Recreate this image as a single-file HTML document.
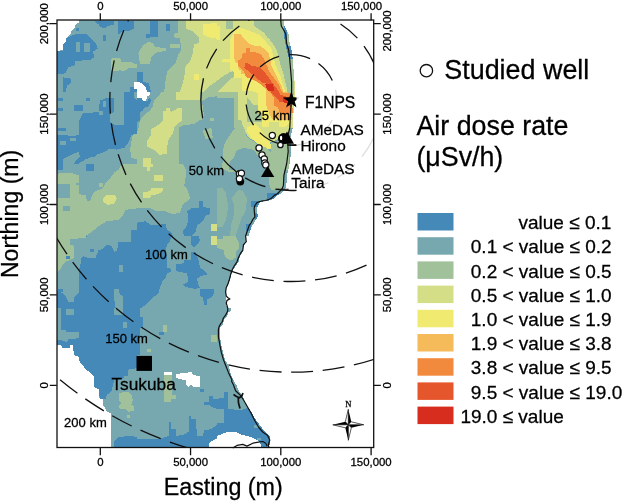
<!DOCTYPE html>
<html><head><meta charset="utf-8"><style>
html,body{margin:0;padding:0;background:#fff;}
svg{display:block;}
text{font-family:'Liberation Sans',Arial,sans-serif;stroke:#000;stroke-width:0.28px;}
</style></head><body>
<svg width="625" height="503" viewBox="0 0 625 503">
<rect width="625" height="503" fill="#fff"/>
<defs><clipPath id="hc"><rect x="198" y="20" width="99" height="150"/></clipPath><clipPath id="pc"><rect x="57" y="20" width="317" height="428"/></clipPath>
<clipPath id="t0"><rect x="57" y="20" width="80" height="72"/></clipPath>
<clipPath id="t1"><rect x="137" y="20" width="80" height="72"/></clipPath>
<clipPath id="t2"><rect x="217" y="20" width="80" height="72"/></clipPath>
<clipPath id="t3"><rect x="57" y="92" width="80" height="72"/></clipPath>
<clipPath id="t4"><rect x="137" y="92" width="80" height="72"/></clipPath>
<clipPath id="t5"><rect x="217" y="92" width="80" height="72"/></clipPath>
<clipPath id="t6"><rect x="57" y="164" width="80" height="72"/></clipPath>
<clipPath id="t7"><rect x="137" y="164" width="80" height="72"/></clipPath>
<clipPath id="t8"><rect x="217" y="164" width="80" height="72"/></clipPath>
<clipPath id="t9"><rect x="57" y="236" width="80" height="72"/></clipPath>
<clipPath id="t10"><rect x="137" y="236" width="80" height="72"/></clipPath>
<clipPath id="t11"><rect x="217" y="236" width="80" height="72"/></clipPath>
<clipPath id="t12"><rect x="57" y="308" width="80" height="72"/></clipPath>
<clipPath id="t13"><rect x="137" y="308" width="80" height="72"/></clipPath>
<clipPath id="t14"><rect x="217" y="308" width="80" height="72"/></clipPath>
<clipPath id="t15"><rect x="57" y="376" width="80" height="72"/></clipPath>
<clipPath id="t16"><rect x="137" y="376" width="80" height="72"/></clipPath>
<clipPath id="t17"><rect x="217" y="376" width="80" height="72"/></clipPath>
</defs>
<g clip-path="url(#pc)" shape-rendering="crispEdges">
<g clip-path="url(#t0)"><rect x="57" y="20" width="80" height="72" fill="#77a8b0"/>
<polygon fill="#ffffff" points="57.0,20.0 78.5,20.0 78.5,22.9 75.6,24.3 74.9,27.2 71.3,31.4 70.6,34.3 67.0,37.2 65.6,41.5 62.7,45.0 62.7,50.1 58.4,50.8 57.0,51.5"/>
<polygon fill="#4489b8" points="65.6,38.6 71.3,35.7 75.6,34.3 87.1,34.3 91.3,38.6 95.6,42.9 97.8,48.6 92.8,51.5 94.2,57.2 89.9,60.1 75.6,60.8 74.2,65.8 68.4,67.2 65.6,73.0 59.9,74.4 57.0,74.4 57.0,51.5 62.7,50.8 62.7,45.0 65.6,41.5"/>
<polygon fill="#77a8b0" points="75.6,41.5 79.9,41.5 79.9,51.5 75.6,51.5"/>
<polygon fill="#77a8b0" points="83.5,42.9 89.9,42.9 89.9,51.5 83.5,51.5"/>
<polygon fill="#4489b8" points="94.9,21.4 114.2,21.4 114.2,25.0 108.5,25.7 105.7,27.9 99.9,27.2 98.5,24.3"/>
<polygon fill="#4489b8" points="118.5,21.4 134.3,21.4 134.3,28.6 128.6,31.4 122.8,31.4 118.5,34.3 117.8,28.6"/>
<polygon fill="#4489b8" points="102.8,35.0 106.4,35.0 106.4,40.8 102.8,40.8"/>
<polygon fill="#4489b8" points="75.6,27.9 78.5,27.9 78.5,30.7 75.6,30.7"/>
<polygon fill="#4489b8" points="62.7,77.2 71.3,78.7 70.6,83.0 67.0,85.8 65.6,92.0 62.7,92.0"/>
<polygon fill="#4489b8" points="130.0,87.3 137.0,87.3 137.0,92.0 130.0,92.0"/>
<polygon fill="#a1c19b" points="110.7,58.6 120.0,57.9 121.4,61.5 128.6,61.5 137.0,64.4 137.0,67.9 128.6,67.9 124.3,71.5 120.0,70.1 117.1,71.5 111.4,70.8"/>
<polygon fill="#ffffff" points="134.3,81.5 137.0,81.5 137.0,88.7 134.3,88.7"/>
</g>
<g clip-path="url(#t1)"><rect x="137" y="20" width="80" height="72" fill="#77a8b0"/>
<polygon fill="#4489b8" points="149.9,21.4 157.8,21.4 157.8,37.2 149.9,37.2"/>
<polygon fill="#4489b8" points="165.6,24.3 169.9,24.3 169.9,30.7 165.6,30.7"/>
<polygon fill="#4489b8" points="145.6,34.3 149.9,34.3 149.9,37.9 145.6,37.9"/>
<polygon fill="#a1c19b" points="142.7,45.8 148.4,41.5 152.7,42.9 155.6,47.2 165.6,47.9 165.6,50.8 155.6,52.9 151.3,57.2 149.9,64.4 139.9,64.4 138.4,52.9"/>
<polygon fill="#a1c19b" points="177.8,20.0 217.0,20.0 217.0,92.0 164.2,92.0 165.6,80.1 167.1,71.5 171.3,67.2 175.6,62.9 178.5,54.3 181.4,50.1 179.9,38.6 174.2,37.2 174.2,33.6 177.8,32.9"/>
<polygon fill="#a1c19b" points="169.9,44.3 179.9,44.3 179.9,47.9 169.9,47.9"/>
<polygon fill="#d4de87" points="186.4,20.0 217.0,20.0 217.0,92.0 179.9,92.0 182.8,83.0 184.2,77.2 185.7,65.8 190.0,61.5 192.8,52.9 194.2,44.3 198.5,42.9 198.5,37.2 192.8,31.4 186.4,28.6"/>
<polygon fill="#f0ea70" points="202.8,24.3 217.0,22.9 217.0,38.6 208.6,37.2 202.8,34.3"/>
<polygon fill="#f0ea70" points="194.2,74.4 198.5,74.4 198.5,80.1 194.2,80.1"/>
<polygon fill="#4489b8" points="137.0,71.5 142.7,71.5 142.7,81.5 148.4,83.0 151.3,92.0 147.0,92.0 145.6,87.3 141.3,83.0 137.0,81.5"/>
<polygon fill="#ffffff" points="137.0,81.5 141.3,83.0 145.6,87.3 147.0,92.0 137.0,92.0"/>
</g>
<g clip-path="url(#t2)"><rect x="217" y="20" width="80" height="72" fill="#d4de87"/>
<polygon fill="#f0ea70" points="217.0,25.7 219.9,25.7 219.9,40.0 217.0,40.0"/>
<polygon fill="#a1c19b" points="225.6,21.4 232.7,21.4 232.7,28.6 225.6,28.6"/>
<polygon fill="#a1c19b" points="254.2,20.0 280.0,20.0 280.0,27.2 285.7,28.6 287.1,34.3 287.8,52.9 285.7,55.8 280.0,54.3 277.1,51.5 274.2,48.6 271.4,42.9 265.7,38.6 259.9,34.3 257.1,28.6 254.2,24.3"/>
</g>
<g clip-path="url(#t3)"><rect x="57" y="92" width="80" height="72" fill="#77a8b0"/>
<polygon fill="#4489b8" points="78.5,122.1 82.8,113.5 98.5,112.0 99.9,100.6 105.7,98.4 114.2,98.4 114.2,112.0 110.0,113.5 110.0,122.1 114.2,124.9 124.3,124.9 124.3,92.0 134.3,92.0 134.3,97.7 137.0,100.6 137.0,133.5 131.4,134.9 128.6,142.1 124.3,147.8 117.1,149.2 112.8,153.5 105.7,155.0 99.9,157.8 92.8,156.4 85.6,159.3 78.5,163.6 78.5,164.0 57.0,164.0 57.0,134.9 65.6,134.9 71.3,136.4 78.5,134.9"/>
<polygon fill="#77a8b0" points="62.7,159.3 68.4,156.4 74.2,153.5 78.5,152.1 79.9,156.4 75.6,160.7 74.2,164.0 62.7,164.0"/>
<polygon fill="#77a8b0" points="95.6,155.0 104.2,152.1 108.5,149.2 115.7,148.5 117.1,152.1 120.0,157.8 121.4,164.0 94.2,164.0"/>
<polygon fill="#4489b8" points="58.4,97.7 62.7,97.7 62.7,100.6 58.4,100.6"/>
<polygon fill="#4489b8" points="58.4,107.7 62.7,107.7 62.7,110.6 58.4,110.6"/>
<polygon fill="#4489b8" points="74.2,104.9 82.8,104.9 82.8,110.6 74.2,110.6"/>
<polygon fill="#4489b8" points="85.6,97.7 89.9,97.7 89.9,100.6 85.6,100.6"/>
<polygon fill="#4489b8" points="58.4,127.8 65.6,127.8 65.6,130.6 58.4,130.6"/>
<polygon fill="#77a8b0" points="59.9,140.7 65.6,140.7 65.6,145.0 59.9,145.0"/>
<polygon fill="#77a8b0" points="69.9,137.8 75.6,137.8 75.6,140.7 69.9,140.7"/>
<polygon fill="#77a8b0" points="102.8,101.3 106.4,101.3 106.4,107.0 102.8,107.0"/>
<polygon fill="#77a8b0" points="98.5,110.6 102.8,110.6 102.8,114.9 98.5,114.9"/>
<polygon fill="#a1c19b" points="132.8,134.9 137.0,133.5 137.0,159.3 131.4,157.8 130.0,149.2"/>
</g>
<g clip-path="url(#t4)"><rect x="137" y="92" width="80" height="72" fill="#a1c19b"/>
<polygon fill="#77a8b0" points="145.6,92.0 161.3,92.0 158.5,96.3 154.2,100.6 152.7,106.3 149.9,110.6 144.2,114.9 139.9,120.6 138.4,129.2 137.0,132.1 137.0,92.0"/>
<polygon fill="#ffffff" points="137.0,92.0 149.9,92.0 149.9,94.9 147.0,96.3 146.3,100.6 142.7,100.6 141.3,97.7 137.0,97.7"/>
<polygon fill="#4489b8" points="137.0,97.7 141.3,97.7 142.7,100.6 147.0,101.3 149.9,97.7 151.3,100.6 148.4,106.3 144.2,107.7 142.7,110.6 139.9,112.0 139.9,120.6 137.0,122.1"/>
<polygon fill="#77a8b0" points="201.4,100.6 205.7,97.7 217.0,96.3 217.0,164.0 178.5,164.0 178.5,127.8 184.2,124.9 194.2,124.2 200.0,119.9 204.3,119.2 202.8,106.3"/>
<polygon fill="#a1c19b" points="202.8,130.6 211.4,127.8 212.8,137.8 205.7,139.2"/>
<polygon fill="#a1c19b" points="210.0,117.8 214.3,117.8 214.3,120.6 210.0,120.6"/>
<polygon fill="#d4de87" points="175.6,92.0 200.0,92.0 200.0,99.9 175.6,99.9"/>
<polygon fill="#d4de87" points="162.8,111.3 165.6,110.6 166.3,108.0 170.2,108.0 170.6,112.0 174.2,110.3 178.5,107.7 181.7,107.7 181.7,120.6 177.4,124.2 174.5,127.1 172.8,133.5 168.8,139.2 167.1,146.4 167.1,153.5 159.9,155.0 154.2,150.0 147.0,146.4 147.0,140.7 151.3,134.9 151.3,128.9 158.5,124.9 162.8,120.6"/>
<polygon fill="#d4de87" points="142.7,157.8 150.6,157.8 150.6,164.0 142.7,164.0"/>
</g>
<g clip-path="url(#t5)"><rect x="217" y="92" width="80" height="72" fill="#77a8b0"/>
<polygon fill="#a1c19b" points="217.0,92.0 297.0,92.0 297.0,97.7 217.0,97.7"/>
<polygon fill="#a1c19b" points="234.0,92.0 238.4,92.0 238.4,128.0 234.0,128.0"/>
<polygon fill="#d4de87" points="238.4,92.0 297.0,92.0 297.0,128.0 238.4,128.0"/>
<polygon fill="#a1c19b" points="247.0,91.0 258.0,91.0 258.0,122.0 247.0,122.0"/>
<polygon fill="#f0ea70" points="249.0,123.0 258.0,123.0 258.0,128.0 249.0,128.0"/>
</g>
<g clip-path="url(#t6)"><rect x="57" y="164" width="80" height="72" fill="#a1c19b"/>
<polygon fill="#77a8b0" points="57.0,164.0 121.4,164.0 118.5,169.7 114.2,172.6 110.0,178.3 105.7,182.6 102.8,188.3 95.6,191.2 92.8,194.1 89.9,201.2 87.1,201.2 85.6,195.5 78.5,194.1 78.5,185.5 74.2,184.0 78.5,182.6 78.5,175.4 69.9,172.6 62.7,172.6 57.0,174.0"/>
<polygon fill="#77a8b0" points="57.0,184.0 69.9,184.0 69.9,198.3 57.0,198.3"/>
<polygon fill="#77a8b0" points="62.7,205.5 69.9,205.5 69.9,211.2 62.7,211.2"/>
<polygon fill="#77a8b0" points="137.0,208.4 125.7,209.8 122.8,215.5 118.5,219.8 107.1,221.2 101.4,224.1 94.2,229.8 88.5,234.1 85.6,236.0 137.0,236.0"/>
<polygon fill="#4489b8" points="57.0,164.0 62.7,164.0 62.7,170.4 57.0,170.4"/>
<polygon fill="#4489b8" points="85.6,164.0 94.2,164.0 94.2,171.2 85.6,171.2"/>
<polygon fill="#4489b8" points="131.4,229.8 137.0,229.8 137.0,236.0 131.4,236.0"/>
<polygon fill="#d4de87" points="102.8,198.3 105.7,195.5 114.2,194.8 117.1,198.3 114.2,204.1 107.1,204.8 102.8,201.2"/>
<polygon fill="#a1c19b" points="98.5,182.6 102.8,182.6 102.8,186.9 98.5,186.9"/>
</g>
<g clip-path="url(#t7)"><rect x="137" y="164" width="80" height="72" fill="#77a8b0"/>
<polygon fill="#a1c19b" points="137.0,164.0 182.8,164.0 185.7,169.7 185.7,176.9 184.2,185.5 187.1,188.3 188.5,192.6 190.0,198.3 187.1,201.2 182.8,204.1 179.9,212.7 172.8,214.1 168.5,212.7 165.6,211.2 155.6,211.2 151.3,208.4 137.0,208.4"/>
<polygon fill="#d4de87" points="142.7,164.0 152.7,164.0 152.7,166.9 149.9,166.9 149.9,171.2 147.0,171.2 147.0,166.9 142.7,166.9"/>
<polygon fill="#d4de87" points="154.2,174.7 162.8,174.7 162.8,181.2 154.2,181.2"/>
<polygon fill="#d4de87" points="142.7,192.6 149.9,191.2 151.3,188.3 162.8,188.3 162.8,191.2 158.5,194.1 151.3,195.5 149.9,198.3 142.7,198.3"/>
<polygon fill="#4489b8" points="137.0,222.7 145.6,221.2 151.3,225.5 165.6,224.1 167.1,229.8 171.3,232.7 172.8,236.0 137.0,236.0"/>
<polygon fill="#4489b8" points="187.1,211.2 191.4,208.4 198.5,208.4 198.5,201.2 202.8,201.2 202.8,206.9 210.0,208.4 210.0,214.1 205.7,215.5 202.8,221.2 197.1,225.5 195.7,231.3 191.4,236.0 184.2,236.0 182.8,231.3 187.1,225.5 188.5,218.4"/>
<polygon fill="#d4de87" points="211.4,224.1 217.0,224.1 217.0,231.3 211.4,231.3"/>
</g>
<g clip-path="url(#t8)"><rect x="217" y="164" width="80" height="72" fill="#77a8b0"/>
<polygon fill="#8db5a4" points="217.0,188.3 222.7,188.3 225.6,192.6 227.0,199.8 228.4,206.9 225.6,221.2 222.7,227.0 217.0,227.0"/>
<polygon fill="#8db5a4" points="231.3,198.3 238.5,189.8 242.8,191.2 247.1,198.3 245.6,211.2 241.3,218.4 238.5,227.0 235.6,236.0 229.9,236.0 231.3,224.1 234.2,214.1 234.2,204.1"/>
<polygon fill="#a1c19b" points="225.6,164.0 247.1,164.0 247.1,168.3 241.3,169.7 234.2,172.6 225.6,171.2"/>
<polygon fill="#a1c19b" points="270.0,164.0 284.3,164.0 283.5,185.5 280.0,189.8 271.4,190.5 268.5,182.6 270.0,172.6"/>
<polygon fill="#4489b8" points="251.3,200.5 259.9,200.5 259.9,206.9 251.3,206.9"/>
<polygon fill="#4489b8" points="254.9,212.7 259.9,212.7 259.9,224.1 254.9,224.1"/>
<polygon fill="#4489b8" points="267.1,193.3 280.0,193.3 280.0,199.1 267.1,199.1"/>
<polygon fill="#4489b8" points="245.6,224.1 251.3,224.1 251.3,231.3 245.6,231.3"/>
</g>
<g clip-path="url(#t9)"><rect x="57" y="236" width="80" height="72" fill="#4489b8"/>
<polygon fill="#77a8b0" points="69.9,238.9 85.6,238.1 87.1,236.0 131.4,236.0 131.4,241.7 118.5,241.7 117.1,250.3 114.2,251.7 111.4,246.0 107.1,244.6 102.8,248.9 98.5,250.3 95.6,257.5 87.1,257.5 82.8,256.0 81.3,258.9 79.9,267.5 78.5,270.3 78.5,293.2 74.2,297.5 74.2,301.8 68.4,301.8 65.6,296.1 62.7,293.2 58.4,291.8 57.0,290.4 57.0,271.8 59.9,270.3 62.7,264.6 65.6,261.8 69.9,260.3 74.2,257.5 74.2,246.0 69.9,244.6"/>
<polygon fill="#a1c19b" points="57.0,236.0 85.6,236.0 85.6,238.1 69.9,238.9 69.9,244.6 74.2,246.0 74.2,257.5 69.9,260.3 65.6,261.8 62.7,264.6 59.9,270.3 57.0,271.8"/>
<polygon fill="#77a8b0" points="118.5,264.6 122.8,264.6 122.8,271.8 118.5,271.8"/>
<polygon fill="#77a8b0" points="114.2,289.0 118.5,289.0 120.0,294.7 122.8,296.1 122.8,308.0 115.7,308.0 114.2,299.0"/>
<polygon fill="#4489b8" points="89.9,248.9 94.2,248.9 94.2,251.7 89.9,251.7"/>
<polygon fill="#4489b8" points="65.6,256.0 69.9,256.0 69.9,258.9 65.6,258.9"/>
<polygon fill="#4489b8" points="58.4,289.0 62.7,289.0 62.7,291.8 58.4,291.8"/>
</g>
<g clip-path="url(#t10)"><rect x="137" y="236" width="80" height="72" fill="#77a8b0"/>
<polygon fill="#4489b8" points="137.0,236.0 171.3,236.0 169.9,241.7 167.1,244.6 165.6,250.3 167.1,257.5 167.1,267.5 171.3,268.9 171.3,271.8 167.1,273.2 165.6,277.5 162.8,280.4 159.9,287.5 158.5,293.2 151.3,299.0 145.6,304.7 141.3,308.0 137.0,308.0"/>
<polygon fill="#4489b8" points="175.6,264.6 184.2,263.2 184.2,260.3 191.4,260.3 191.4,251.7 195.7,251.7 198.5,260.3 200.0,267.5 205.7,271.8 207.1,274.6 200.0,276.1 197.1,278.9 198.5,284.7 200.0,287.5 195.7,289.0 188.5,287.5 184.2,286.1 182.8,284.7 188.5,281.8 187.1,273.2 178.5,271.8 175.6,270.3"/>
<polygon fill="#4489b8" points="191.4,236.0 198.5,236.0 200.0,240.3 197.1,244.6 194.2,247.4 191.4,244.6"/>
<polygon fill="#4489b8" points="200.0,289.0 214.3,289.0 214.3,293.2 211.4,297.5 207.1,299.0 207.1,304.7 204.3,304.7 202.8,297.5 200.0,296.1"/>
<polygon fill="#d4de87" points="211.4,236.0 217.0,236.0 217.0,244.6 211.4,244.6"/>
</g>
<g clip-path="url(#t11)"><rect x="217" y="236" width="80" height="72" fill="#ffffff"/>
<polygon fill="#77a8b0" points="217.0,236.0 245.6,236.0 246.3,241.7 243.5,247.4 242.8,251.7 239.9,256.0 238.5,261.8 235.6,266.1 232.7,270.3 231.3,274.6 229.9,280.4 228.4,284.7 226.3,287.5 225.6,293.2 226.3,299.0 225.6,303.3 227.0,308.0 217.0,308.0"/>
<polygon fill="#a1c19b" points="217.0,238.9 222.7,238.9 222.7,236.0 235.6,236.0 238.5,241.7 238.5,248.9 235.6,251.7 235.6,257.5 231.3,260.3 227.0,258.9 224.2,254.6 224.2,250.3 219.9,248.9 217.0,247.4"/>
</g>
<g clip-path="url(#t12)"><rect x="57" y="308" width="80" height="72" fill="#4489b8"/>
<polygon fill="#77a8b0" points="57.0,308.0 61.3,308.0 61.3,329.5 65.6,329.5 65.6,332.3 78.5,332.3 78.5,338.1 68.4,339.5 67.0,342.3 62.7,340.9 59.9,339.5 57.0,339.5"/>
<polygon fill="#77a8b0" points="65.6,309.4 74.2,309.4 74.2,315.2 65.6,315.2"/>
<polygon fill="#77a8b0" points="114.2,308.0 122.8,308.0 122.8,315.2 114.2,315.2"/>
<polygon fill="#77a8b0" points="122.8,322.3 127.1,322.3 127.1,328.0 122.8,328.0"/>
<polygon fill="#77a8b0" points="128.6,369.5 137.0,368.1 137.0,380.0 127.1,380.0"/>
<polygon fill="#ffffff" points="57.0,345.2 61.3,345.2 62.7,348.1 69.9,348.1 69.9,345.2 72.7,345.2 74.2,355.2 78.5,356.7 79.9,362.4 82.8,365.2 85.6,369.5 89.9,372.4 92.8,375.3 94.2,380.0 57.0,380.0"/>
</g>
<g clip-path="url(#t13)"><rect x="137" y="308" width="80" height="72" fill="#77a8b0"/>
<polygon fill="#4489b8" points="137.0,308.0 139.9,308.0 139.9,316.6 142.7,316.6 142.7,328.0 139.9,328.0 139.9,355.2 137.0,355.2"/>
<polygon fill="#4489b8" points="159.2,332.3 163.5,332.3 163.5,335.2 159.2,335.2"/>
<polygon fill="#a1c19b" points="162.8,325.2 167.1,325.2 167.1,331.6 162.8,331.6"/>
<polygon fill="#a1c19b" points="211.4,335.2 217.0,335.2 217.0,341.6 211.4,341.6"/>
<polygon fill="#a1c19b" points="147.0,348.8 151.3,348.8 151.3,351.6 147.0,351.6"/>
<polygon fill="#ffffff" points="163.5,371.7 172.1,371.7 172.1,375.3 163.5,375.3"/>
<polygon fill="#a1c19b" points="163.5,375.3 172.1,375.3 172.1,380.0 163.5,380.0"/>
<polygon fill="#ffffff" points="175.6,373.8 187.1,373.1 188.5,371.7 191.4,371.7 192.8,374.5 200.0,376.7 200.0,380.0 175.6,380.0"/>
</g>
<g clip-path="url(#t14)"><rect x="217" y="308" width="80" height="72" fill="#ffffff"/>
<polygon fill="#77a8b0" points="217.0,308.0 231.3,308.0 231.3,310.9 228.4,312.3 227.0,316.6 224.2,319.4 222.7,325.2 219.9,328.0 219.9,336.6 221.3,345.2 222.7,350.9 224.2,356.7 225.6,361.0 228.4,365.2 229.9,371.0 231.3,375.3 232.0,380.0 217.0,380.0"/>
</g>
<g clip-path="url(#t15)"><rect x="57" y="376" width="80" height="72" fill="#ffffff"/>
<polygon fill="#77a8b0" points="94.2,376.0 137.0,376.0 137.0,448.0 110.7,448.0 110.7,413.2 107.1,411.8 102.8,404.6 102.8,398.9 98.5,397.5 98.5,388.9 94.2,387.4"/>
<polygon fill="#4489b8" points="94.2,376.0 124.3,376.0 122.8,378.9 114.2,380.3 111.4,391.7 107.1,394.6 105.7,398.9 99.9,398.9 98.5,388.9 94.2,387.4"/>
<polygon fill="#a1c19b" points="118.5,393.2 125.7,391.7 128.6,392.5 131.4,394.6 132.8,400.3 131.4,404.6 134.3,406.1 134.3,410.3 128.6,411.8 125.7,408.9 120.0,408.9 118.5,406.1 121.4,403.2 118.5,400.3"/>
<polygon fill="#a1c19b" points="127.1,414.6 130.0,414.6 130.0,418.2 127.1,418.2"/>
<polygon fill="#4489b8" points="114.2,441.8 118.5,437.5 125.7,436.1 132.8,436.1 137.0,437.5 137.0,448.0 114.2,448.0"/>
</g>
<g clip-path="url(#t16)"><rect x="137" y="376" width="80" height="72" fill="#77a8b0"/>
<polygon fill="#a1c19b" points="163.5,376.0 172.1,376.0 172.1,394.6 175.6,394.6 175.6,398.9 171.3,398.9 171.3,401.8 163.5,401.8"/>
<polygon fill="#ffffff" points="175.6,376.0 200.0,376.0 200.0,387.4 194.2,387.4 191.4,384.6 188.5,387.4 185.7,384.6 185.7,380.3 179.9,378.9 175.6,378.1"/>
<polygon fill="#4489b8" points="137.0,439.0 159.9,439.0 168.5,436.1 168.5,421.8 171.3,421.8 171.3,429.0 175.6,429.0 175.6,436.1 184.2,434.7 188.5,431.8 188.5,416.1 191.4,416.1 191.4,418.9 195.7,418.9 197.1,436.1 202.8,436.1 204.3,430.4 211.4,429.0 217.0,424.7 217.0,437.5 211.4,441.8 208.6,443.3 208.6,448.0 137.0,448.0"/>
<polygon fill="#4489b8" points="200.0,388.9 204.3,388.9 204.3,391.7 200.0,391.7"/>
<polygon fill="#4489b8" points="204.3,401.8 208.6,401.8 208.6,396.0 212.8,396.0 212.8,398.9 217.0,398.9 217.0,408.9 212.8,407.5 208.6,404.6 204.3,404.6"/>
<polygon fill="#ffffff" points="208.6,443.3 212.8,440.4 217.0,439.0 217.0,448.0 208.6,448.0"/>
</g>
<g clip-path="url(#t17)"><rect x="217" y="376" width="80" height="72" fill="#ffffff"/>
<polygon fill="#77a8b0" points="217.0,376.0 231.3,376.0 234.2,381.7 237.0,386.0 239.9,390.3 242.8,396.0 244.9,401.8 248.5,407.5 241.3,410.3 228.4,408.9 228.4,391.7 224.2,391.7 224.2,397.5 217.0,398.9"/>
<polygon fill="#4489b8" points="217.0,398.9 224.2,397.5 224.2,391.7 228.4,391.7 228.4,408.9 241.3,410.3 248.5,407.5 251.3,411.8 254.2,417.5 258.5,423.2 262.8,429.0 267.1,433.2 270.0,436.1 270.0,443.3 268.5,448.0 261.4,448.0 259.9,441.8 255.6,439.0 248.5,436.1 241.3,434.7 235.6,431.8 225.6,432.5 217.0,436.1"/>
<polygon fill="#77a8b0" points="217.0,408.9 224.2,408.9 224.2,423.2 217.0,423.2"/>
<polygon fill="#77a8b0" points="254.2,424.7 259.9,424.7 259.9,427.5 254.2,427.5"/>
<polygon fill="#77a8b0" points="257.1,437.5 261.4,437.5 261.4,440.4 257.1,440.4"/>
</g>
<g clip-path="url(#hc)">
<polygon fill="#d4de87" points="241.3,120.0 288.7,120.0 288.7,132.8 281.0,135.4 277.2,139.2 272.0,141.8 268.2,143.0 265.6,145.6 258.0,144.3 254.1,140.5 249.0,137.9 246.4,134.1 244.5,129.0 242.6,125.1"/>
<polygon fill="#f0ea70" points="246.4,127.7 251.6,125.1 255.4,123.8 259.2,127.7 263.1,132.8 265.6,137.9 268.2,140.5 270.8,144.3 270.8,149.4 265.6,148.2 260.5,145.6 255.4,141.8 250.3,136.6 247.7,132.8"/>
<polygon fill="#a1c19b" points="270.8,143.0 288.7,139.2 288.7,170.0 273.3,170.0 273.3,154.6 270.8,152.0"/>
<polygon fill="#a1c19b" points="234.9,120.0 241.3,120.0 242.6,125.1 245.2,130.2 246.4,135.4 249.0,139.2 254.1,141.8 258.0,145.6 265.6,146.9 268.2,149.4 270.8,152.0 273.3,154.6 273.3,170.0 265.6,170.0 265.6,161.0 259.2,157.1 255.4,152.0 251.6,149.4 242.6,148.2 236.2,150.7 234.9,154.6 233.6,158.4 229.8,162.2 227.2,170.0 222.1,170.0 223.4,148.2 224.7,143.0 227.2,139.2 229.8,135.4 232.4,131.5 234.9,129.0"/>
<polygon fill="#77a8b0" points="236.2,150.7 242.6,148.2 251.6,148.8 255.4,152.0 259.2,157.1 265.6,161.0 265.6,170.0 228.5,170.0 229.8,163.5 233.6,158.4 234.9,154.6"/>
<polygon fill="#a1c19b" points="200.0,96.0 207.0,88.0 214.0,83.0 222.0,77.0 230.0,72.0 236.0,70.0 238.0,74.0 232.0,78.0 226.0,83.0 222.0,88.0 217.0,92.0 210.0,96.0 204.0,100.0 200.0,102.0"/>
<polygon fill="#d4de87" points="234.0,20.0 294.0,20.0 294.0,100.0 258.0,110.0 245.0,95.0 237.0,74.0 234.0,60.0"/>
<polygon fill="#a1c19b" points="253.7,20.0 253.7,25.0 257.0,28.0 261.0,30.5 264.5,33.0 267.5,37.5 270.3,40.3 274.2,45.5 276.8,50.7 278.1,55.8 279.4,61.0 280.7,66.2 283.3,72.6 284.5,79.1 285.8,84.3 287.1,89.4 287.8,95.0 294.0,95.0 294.0,20.0"/>
<polygon fill="#a1c19b" points="247.0,104.6 258.1,104.6 258.1,112.7 261.8,112.7 261.8,122.3 247.0,122.3"/>
<polygon fill="#f0ea70" points="233.9,29.9 240.8,27.9 247.8,29.9 254.7,32.9 259.8,34.7 263.6,39.3 267.5,43.8 271.4,48.4 272.9,54.5 274.2,59.7 275.5,64.9 278.1,71.3 280.7,76.5 282.0,81.7 283.9,86.8 285.2,92.0 292.0,94.0 292.0,121.0 285.0,127.4 279.4,127.4 279.4,122.3 269.0,122.3 269.0,127.4 262.5,127.4 261.8,122.3 261.8,112.7 258.1,112.7 258.1,104.6 258.5,98.0 257.8,93.0 250.9,91.0 241.8,91.0 241.8,77.7 234.2,77.7 234.2,72.8 233.0,71.0 229.9,70.0 229.9,61.7 222.0,61.7 222.0,59.7 229.9,58.7 229.9,39.9 232.9,33.9"/>
<polygon fill="#f5ba5a" points="233.9,33.9 240.8,33.9 242.8,37.9 245.8,39.9 248.8,43.8 254.7,45.8 259.8,45.5 264.3,49.0 268.7,53.5 270.3,59.7 271.6,66.2 274.2,71.3 276.8,76.5 279.4,81.7 282.0,86.8 283.3,92.0 292.0,93.0 292.0,120.0 281.6,120.0 275.0,119.0 272.0,118.6 269.0,112.7 266.2,105.0 266.0,98.0 266.0,89.5 262.0,85.5 257.8,82.5 250.0,78.5 246.0,74.2 241.1,74.2 241.1,70.0 238.8,70.0 237.8,63.7 234.9,61.7 233.9,54.8"/>
<polygon fill="#f28a3e" points="245.8,47.8 249.5,47.8 250.0,51.8 255.0,52.0 260.3,54.0 263.9,58.4 266.5,64.9 269.0,71.3 272.9,76.5 276.8,81.7 279.4,85.6 281.3,90.7 284.0,93.0 292.0,93.0 292.7,113.0 289.7,114.2 282.4,113.5 279.4,112.0 278.0,107.6 274.3,105.4 274.3,98.0 270.0,92.0 266.2,88.8 260.0,83.5 254.3,80.0 246.0,77.0 244.0,72.0 240.0,68.0 237.5,64.0 237.8,61.0 241.8,58.0 241.8,53.8 245.8,52.8"/>
<polygon fill="#e6562c" points="245.4,63.1 249.8,63.7 250.7,65.7 256.7,66.7 260.0,67.5 263.9,71.3 267.8,76.5 271.6,81.7 275.5,86.8 278.1,90.7 280.7,95.0 285.0,96.0 289.5,97.7 292.0,99.0 292.0,107.0 288.0,106.0 286.8,102.4 279.4,102.4 278.8,100.1 275.2,96.5 271.6,92.9 270.0,89.0 266.2,83.2 262.0,82.5 256.0,77.5 252.0,74.0 248.9,71.5 244.2,67.9"/>
<polygon fill="#4489b8" points="283.5,24.0 286.5,24.0 287.5,46.0 293.5,46.5 293.5,59.0 289.0,59.0 286.0,47.0 284.0,36.0"/>
<polygon fill="#d72d1e" points="265.2,84.3 272.9,84.3 274.2,90.7 267.8,90.7"/>
<polygon fill="#d72d1e" points="282.3,97.7 287.1,97.7 287.1,102.5 283.5,102.5"/>
</g>
<polygon fill="#fff" points="283.7,20.0 284.3,26.0 286.7,30.0 288.7,33.9 289.7,43.8 291.6,49.8 292.6,57.8 293.6,69.7 294.6,81.6 294.6,97.5 293.6,111.4 292.8,127.7 290.4,137.3 291.2,151.6 289.7,163.5 286.9,175.5 286.4,185.4 285.0,189.0 282.9,191.2 280.0,194.0 277.2,195.4 274.3,198.3 271.4,199.7 268.6,200.5 265.7,200.9 262.9,201.5 260.0,202.6 257.9,205.5 257.1,208.3 257.4,212.6 257.9,216.9 255.7,219.7 254.3,222.6 252.2,225.4 250.7,229.7 249.3,234.0 248.6,236.0 249.3,241.7 246.5,244.6 245.8,250.3 243.6,253.2 241.5,257.5 240.0,261.8 237.2,266.0 235.0,270.3 233.6,274.6 232.2,280.3 230.7,284.6 229.3,287.5 228.6,291.8 229.3,296.1 230.7,297.5 232.9,298.9 230.0,300.4 229.3,303.2 230.7,308.0 230.7,310.9 228.6,315.2 226.4,318.0 225.0,322.3 223.6,323.7 222.1,326.6 221.4,329.5 221.4,336.6 222.9,345.2 224.3,352.4 226.4,359.5 228.6,365.2 231.4,372.4 235.0,380.0 234.5,381.0 236.5,385.0 238.6,390.7 241.5,393.5 243.4,395.4 246.6,400.0 250.0,406.0 254.0,413.0 257.7,420.5 261.5,427.0 265.7,432.0 268.5,434.0 270.4,435.2 272.8,440.0 271.3,444.8 272.0,448.0 380.0,448.0 380.0,15.0"/>
</g>
<g clip-path="url(#pc)"><circle cx="291.35" cy="100" r="45.4" fill="none" stroke="#111" stroke-width="1.3" stroke-dasharray="22 9.7" stroke-dashoffset="11.02"/>
<circle cx="291.35" cy="100" r="181.5" fill="none" stroke="#111" stroke-width="1.3" stroke-dasharray="22 9.7" stroke-dashoffset="14.41"/>
<circle cx="291.35" cy="100" r="272.2" fill="none" stroke="#111" stroke-width="1.3" stroke-dasharray="22 9.7" stroke-dashoffset="6.48"/>
<circle cx="291.35" cy="100" r="363" fill="none" stroke="#111" stroke-width="1.3" stroke-dasharray="22 9.7" stroke-dashoffset="25.52"/>
<path d="M200.85,100.00 A90.5,90.5 0 1 1 381.85,100.00 A90.5,90.5 0 1 1 200.85,100.00" fill="none" stroke="#111" stroke-width="1.3" stroke-dasharray="22 10.3"/></g>
<g fill="none" stroke="#111" stroke-width="1.2" stroke-linejoin="round"><polyline points="280.7,20.0 281.3,26.0 283.7,30.0 285.7,33.9 286.7,43.8 288.6,49.8 289.6,57.8 290.6,69.7 291.6,81.6 291.6,97.5 290.6,111.4 289.8,127.7 287.4,137.3 288.2,151.6 286.7,163.5 283.9,175.5 283.4,185.4 282.0,189.0 279.9,191.2 277.0,194.0 274.2,195.4 271.3,198.3 268.4,199.7 265.6,200.5 262.7,200.9 259.9,201.5 257.0,202.6 254.9,205.5 254.1,208.3 254.4,212.6 254.9,216.9 252.7,219.7 251.3,222.6 249.2,225.4 247.7,229.7 246.3,234.0 245.6,236.0 246.3,241.7 243.5,244.6 242.8,250.3 240.6,253.2 238.5,257.5 237.0,261.8 234.2,266.0 232.0,270.3 230.6,274.6 229.2,280.3 227.7,284.6 226.3,287.5 225.6,291.8 226.3,296.1 227.7,297.5 229.9,298.9 227.0,300.4 226.3,303.2 227.7,308.0 227.7,310.9 225.6,315.2 223.4,318.0 222.0,322.3 220.6,323.7 219.1,326.6 218.4,329.5 218.4,336.6 219.9,345.2 221.3,352.4 223.4,359.5 225.6,365.2 228.4,372.4 232.0,380.0 231.5,381.0 233.5,385.0 235.6,390.7 238.5,393.5 240.4,395.4 243.6,400.0 247.0,406.0 251.0,413.0 254.7,420.5 258.5,427.0 262.7,432.0 265.5,434.0 267.4,435.2 269.8,440.0 268.3,444.8 269.0,448.0"/><polyline stroke-width="1.7" points="233.5,394.5 236.5,396.5 239.5,397.8 242.0,395.5 243.0,393.0"/><polyline stroke-width="1.7" points="238.2,397.5 238.5,403.0 240.0,408.5"/><polyline points="232.7,448.0 237.0,445.4 242.8,444.4 247.0,446.1 252.8,443.2 259.9,441.8 262.8,441.5 265.7,443.2 267.1,446.1"/></g>
<polygon points="287,131.5 279.3,143.8 294,143.8" fill="#000"/><circle cx="283.6" cy="138.6" r="5.6" fill="#000"/><circle cx="240.3" cy="181.6" r="3.9" fill="#000"/><circle cx="272.3" cy="135.5" r="3.1" fill="#fff" stroke="#111" stroke-width="1.2"/><circle cx="259.0" cy="148.0" r="3.1" fill="#fff" stroke="#111" stroke-width="1.2"/><circle cx="262.0" cy="154.9" r="3.1" fill="#fff" stroke="#111" stroke-width="1.2"/><circle cx="264.3" cy="158.9" r="3.1" fill="#fff" stroke="#111" stroke-width="1.2"/><circle cx="264.8" cy="162.9" r="3.1" fill="#fff" stroke="#111" stroke-width="1.2"/><circle cx="265.8" cy="164.9" r="3.1" fill="#fff" stroke="#111" stroke-width="1.2"/><circle cx="239.4" cy="173.8" r="3.1" fill="#fff" stroke="#111" stroke-width="1.2"/><circle cx="241.4" cy="173.3" r="3.1" fill="#fff" stroke="#111" stroke-width="1.2"/><circle cx="239.4" cy="178.8" r="3.1" fill="#fff" stroke="#111" stroke-width="1.2"/><circle cx="280.4" cy="145" r="2.7" fill="#fff" stroke="#111" stroke-width="1.3"/><ellipse cx="281.1" cy="138" rx="1.2" ry="2.3" fill="#fff"/><polygon points="267.6,166 261,177 274.3,177" fill="#000"/><path d="M287,144.7H296 M276.7,189.3H288.6" stroke="#111" stroke-width="1.1"/><polygon points="291.35,91.20 293.41,97.37 299.91,97.42 294.68,101.28 296.64,107.48 291.35,103.70 286.06,107.48 288.02,101.28 282.79,97.42 289.29,97.37" fill="#000"/><rect x="136.5" y="355.9" width="15.5" height="15" fill="#000"/>
<rect x="296.5" y="81" width="77.2" height="115" fill="#fff" fill-opacity="0.86"/><g fill="#000"><text x="305" y="107.6" font-size="15.6">F1NPS</text><text x="300.4" y="135.3" font-size="15.4">AMeDAS</text><text x="300.4" y="150.8" font-size="15.4">Hirono</text><text x="291.3" y="173.5" font-size="15.4">AMeDAS</text><text x="291.3" y="188" font-size="15.4">Taira</text><text x="254.6" y="120.3" font-size="13">25 km</text><text x="188.8" y="175.3" font-size="13">50 km</text><text x="145.1" y="259.1" font-size="13">100 km</text><text x="105.3" y="342.8" font-size="13">150 km</text><text x="64.1" y="426.7" font-size="13">200 km</text><text x="111.4" y="389.7" font-size="17.3">Tsukuba</text></g>
<polygon points="348.30,424.80 348.30,409.30 345.30,421.80" fill="#fff" stroke="#111" stroke-width="0.7"/><polygon points="348.30,424.80 348.30,409.30 351.30,421.80" fill="#000"/><polygon points="348.30,424.80 363.80,424.80 351.30,421.80" fill="#fff" stroke="#111" stroke-width="0.7"/><polygon points="348.30,424.80 363.80,424.80 351.30,427.80" fill="#000"/><polygon points="348.30,424.80 348.30,440.30 351.30,427.80" fill="#fff" stroke="#111" stroke-width="0.7"/><polygon points="348.30,424.80 348.30,440.30 345.30,427.80" fill="#000"/><polygon points="348.30,424.80 332.80,424.80 345.30,427.80" fill="#fff" stroke="#111" stroke-width="0.7"/><polygon points="348.30,424.80 332.80,424.80 345.30,421.80" fill="#000"/><text x="348.4" y="407.3" font-size="8.5" text-anchor="middle" style="font-family:'Liberation Serif',serif">N</text>
<rect x="57" y="20" width="316.7" height="427.5" fill="none" stroke="#111" stroke-width="1.3"/>
<path d="M100.30,448V455.2 M100.30,20.4V13.2 M190.55,448V455.2 M190.55,20.4V13.2 M280.80,448V455.2 M280.80,20.4V13.2 M371.10,448V455.2 M371.10,20.4V13.2 M56.75,385.30H49.8 M373.85,385.30H380.8 M56.75,294.90H49.8 M373.85,294.90H380.8 M56.75,204.50H49.8 M373.85,204.50H380.8 M56.75,114.10H49.8 M373.85,114.10H380.8 M56.75,23.70H49.8 M373.85,23.70H380.8" stroke="#111" stroke-width="1.3" fill="none"/>
<g font-size="11.4" fill="#000"><text x="100.3" y="465.6" text-anchor="middle">0</text><text x="100.3" y="9.5" text-anchor="middle">0</text><text x="190.6" y="465.6" text-anchor="middle">50,000</text><text x="190.6" y="9.5" text-anchor="middle">50,000</text><text x="280.8" y="465.6" text-anchor="middle">100,000</text><text x="280.8" y="9.5" text-anchor="middle">100,000</text><text x="371.1" y="465.6" text-anchor="middle">150,000</text><text x="361.5" y="9.5" text-anchor="middle">150,000</text><text transform="translate(48.2,385.3) rotate(-90)" text-anchor="middle">0</text><text transform="translate(390.8,385.3) rotate(-90)" text-anchor="middle">0</text><text transform="translate(48.2,294.9) rotate(-90)" text-anchor="middle">50,000</text><text transform="translate(390.8,294.9) rotate(-90)" text-anchor="middle">50,000</text><text transform="translate(48.2,204.5) rotate(-90)" text-anchor="middle">100,000</text><text transform="translate(390.8,204.5) rotate(-90)" text-anchor="middle">100,000</text><text transform="translate(48.2,114.1) rotate(-90)" text-anchor="middle">150,000</text><text transform="translate(390.8,114.1) rotate(-90)" text-anchor="middle">150,000</text><text transform="translate(48.2,23.7) rotate(-90)" text-anchor="middle">200,000</text><text transform="translate(390.8,31.0) rotate(-90)" text-anchor="middle">200,000</text></g>
<text x="223.2" y="495.4" text-anchor="middle" font-size="23.3" fill="#000">Easting (m)</text>
<text transform="translate(18.1,213.9) rotate(-90)" text-anchor="middle" font-size="23.1" fill="#000">Northing (m)</text>
<g fill="#000"><circle cx="426.4" cy="70.7" r="6.2" fill="#fff" stroke="#111" stroke-width="1.3"/><text x="444.3" y="79.2" font-size="26.9">Studied well</text><text x="416.5" y="135" font-size="26.8">Air dose rate</text><text x="416.4" y="165.5" font-size="26.8">(μSv/h)</text><rect x="417.5" y="213.0" width="36" height="17.5" fill="#4489b8"/><text x="518.5" y="229.2" font-size="19">value ≤ 0.1</text><rect x="417.5" y="237.2" width="36" height="17.5" fill="#77a8b0"/><text x="470.8" y="253.4" font-size="19">0.1 &lt; value ≤ 0.2</text><rect x="417.5" y="261.4" width="36" height="17.5" fill="#a1c19b"/><text x="470.8" y="277.6" font-size="19">0.2 &lt; value ≤ 0.5</text><rect x="417.5" y="285.6" width="36" height="17.5" fill="#d4de87"/><text x="470.8" y="301.8" font-size="19">0.5 &lt; value ≤ 1.0</text><rect x="417.5" y="309.8" width="36" height="17.5" fill="#f0ea70"/><text x="470.8" y="326.0" font-size="19">1.0 &lt; value ≤ 1.9</text><rect x="417.5" y="334.0" width="36" height="17.5" fill="#f5ba5a"/><text x="470.8" y="350.2" font-size="19">1.9 &lt; value ≤ 3.8</text><rect x="417.5" y="358.2" width="36" height="17.5" fill="#f28a3e"/><text x="470.8" y="374.4" font-size="19">3.8 &lt; value ≤ 9.5</text><rect x="417.5" y="382.4" width="36" height="17.5" fill="#e6562c"/><text x="470.8" y="398.6" font-size="19">9.5 &lt; value ≤ 19.0</text><rect x="417.5" y="406.6" width="36" height="17.5" fill="#d72d1e"/><text x="460.4" y="422.8" font-size="19">19.0 ≤ value</text></g>
</svg>
</body></html>
